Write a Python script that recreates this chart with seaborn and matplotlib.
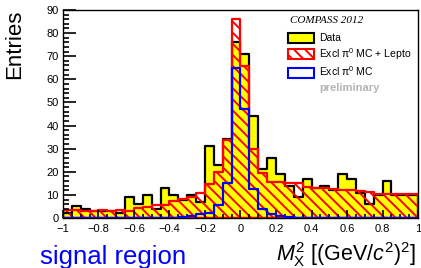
import numpy as np
import pandas as pd
import matplotlib
matplotlib.use('Agg')
import matplotlib.pyplot as plt
import seaborn as sns
from matplotlib.patches import Patch
from matplotlib.ticker import MultipleLocator

# 40 bins of width 0.05 in M_X^2 from -1 to 1
bin_centers = np.round(np.arange(-0.975, 1.0, 0.05), 3)

data_counts = [2, 5, 4, 3, 3, 3, 2, 9, 6, 10,
               4, 13, 10, 8, 10, 7, 31, 23, 34, 76,
               71, 44, 21, 26, 19, 14, 9, 17, 13, 14,
               12, 19, 17, 11, 6, 10, 16, 10, 10, 10]

mc_lepto = [3.3, 3.3, 2.9, 2.9, 3.6, 3.2, 3.6, 2.9, 4.5, 4.8,
            5.5, 5.8, 7.2, 8.4, 9.0, 10.6, 14.6, 19.9, 33.7, 86.0,
            65.7, 29.8, 19.6, 15.5, 15.4, 15.1, 15.1, 13.3, 13.0, 12.9,
            12.7, 12.1, 12.0, 11.6, 11.3, 10.3, 10.3, 10.3, 10.3, 10.3]

excl_mc = [0.1, 0.1, 0.1, 0.1, 0.1, 0.1, 0.1, 0.1, 0.1, 0.1,
           0.1, 0.1, 0.2, 0.6, 1.0, 1.6, 2.3, 5.8, 15.2, 64.7,
           47.0, 12.7, 4.1, 1.9, 0.9, 0.5, 0.2, 0.1, 0.1, 0.1,
           0.1, 0.1, 0.1, 0.1, 0.1, 0.1, 0.1, 0.1, 0.1, 0.1]

xtick_vals = [-1, -0.8, -0.6, -0.4, -0.2, 0, 0.2, 0.4, 0.6, 0.8, 1]
xtick_labels = ['\u22121', '\u22120.8', '\u22120.6', '\u22120.4', '\u22120.2',
                '0', '0.2', '0.4', '0.6', '0.8', '1']

df = pd.DataFrame({'mx2': bin_centers, 'data': data_counts,
                   'mc_lepto': mc_lepto, 'excl_mc': excl_mc})

sns.set_style('white')
plt.rcParams['font.family'] = ['Liberation Sans', 'DejaVu Sans']
plt.rcParams['text.color'] = 'black'
plt.rcParams['mathtext.fontset'] = 'custom'
plt.rcParams['mathtext.rm'] = 'Liberation Sans'
plt.rcParams['mathtext.it'] = 'Liberation Sans:italic'
plt.rcParams['hatch.color'] = 'red'
plt.rcParams['hatch.linewidth'] = 1.4

fig = plt.figure(figsize=(4.21, 2.68), dpi=100)
ax = fig.add_axes([0.1496, 0.1866, 0.8433, 0.7761])

hist_kw = dict(x='mx2', binwidth=0.05, binrange=(-1, 1), element='step', ax=ax)
sns.histplot(data=df, weights='data', fill=True, color='#ffff00', facecolor='#ffff00',
             edgecolor='black', linewidth=1.6, alpha=1, zorder=1, **hist_kw)
sns.histplot(data=df, weights='mc_lepto', fill=True, color='red', facecolor='none',
             edgecolor='red', hatch='\\\\\\', linewidth=1.6, alpha=1, zorder=2, **hist_kw)
sns.histplot(data=df, weights='excl_mc', fill=False, color='blue',
             linewidth=1.6, zorder=3, **hist_kw)

ax.set_xlim(-1, 1)
ax.set_ylim(0, 90)
ax.set_xticks(xtick_vals, xtick_labels)
ax.xaxis.set_minor_locator(MultipleLocator(0.05))
ax.yaxis.set_major_locator(MultipleLocator(10))
ax.yaxis.set_minor_locator(MultipleLocator(2))
# ROOT-like inward ticks on the left and bottom only
ax.xaxis.set_tick_params(which='major', bottom=True, top=False, direction='in',
                         length=6, width=1.2, color='black', pad=4, labelsize=8,
                         labelcolor='black')
ax.xaxis.set_tick_params(which='minor', bottom=True, top=False, direction='in',
                         length=3, width=1.2, color='black')
ax.yaxis.set_tick_params(which='major', left=True, right=False, direction='in',
                         length=9, width=1.2, color='black', pad=3, labelsize=8,
                         labelcolor='black')
ax.yaxis.set_tick_params(which='minor', left=True, right=False, direction='in',
                         length=4.5, width=1.2, color='black')
ax.set_axisbelow(False)
for sp in ax.spines.values():
    sp.set_linewidth(1.0)
    sp.set_color('black')
ax.set_xlabel('')
ax.set_ylabel('')

fig.text(0.035, 0.965, 'Entries', rotation=90, ha='center', va='top', fontsize=16)
fig.text(0.095, 0.04, 'signal region', color='#0000ff', ha='left', va='center',
         fontsize=18.5)
fig.text(0.988, 0.05, r'$M^{2}_{\rm X}$ [(GeV/$c^{2}$)$^{2}$]', ha='right',
         va='center', fontsize=15.5)

ax.text(0.64, 0.95, 'COMPASS 2012', transform=ax.transAxes, fontsize=8,
        family='Liberation Serif', style='italic', ha='left', va='center')
handles = [
    Patch(facecolor='#ffff00', edgecolor='black', linewidth=1.5, label='Data'),
    Patch(facecolor='white', edgecolor='red', hatch='\\\\\\', linewidth=1.5,
          label='Excl \u03c0$^{0}$ MC + Lepto'),
    Patch(facecolor='white', edgecolor='blue', linewidth=1.5, label='Excl \u03c0$^{0}$ MC'),
]
ax.legend(handles=handles, loc='upper left', bbox_to_anchor=(0.627, 0.9),
          frameon=False, fontsize=7.5, handlelength=2.5, handleheight=1.1,
          labelspacing=0.25, handletextpad=0.5, borderaxespad=0, borderpad=0.2)
ax.text(0.722, 0.625, 'preliminary', transform=ax.transAxes, fontsize=8,
        fontweight='bold', color='#b4b4b4', ha='left', va='center')

fig.savefig('out.png', dpi=100)
